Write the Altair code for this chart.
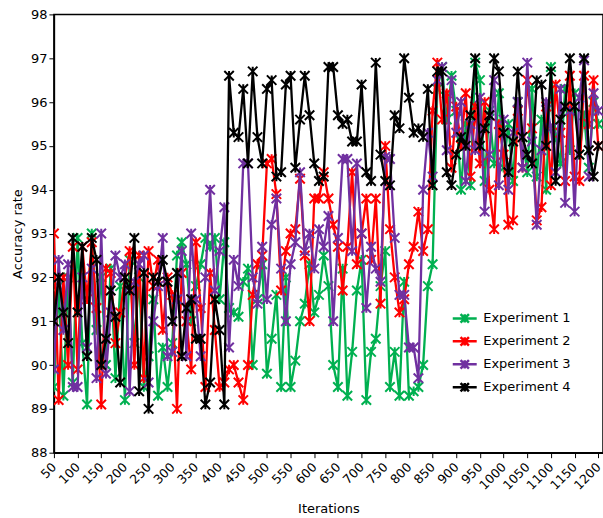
import altair as alt
import pandas as pd

iterations = list(range(50, 1201, 10))

exp1 = [
    89.5, 91.8, 89.3, 92.0, 89.6, 92.9, 90.5, 89.1, 93.0, 90.8,
    92.0, 90.0, 92.2, 89.7, 91.8, 89.2, 92.4, 90.5, 92.0, 89.5,
    90.2, 91.5, 89.3, 90.4, 89.5, 90.5, 92.5, 92.8, 92.3, 91.0,
    91.8, 92.3, 92.9, 92.7, 92.9, 91.5, 92.8, 91.3, 91.2, 91.1,
    91.9, 92.2, 90.0, 91.5, 92.3, 89.8, 90.6, 91.6, 89.5, 92.0,
    89.5, 90.1, 91.0, 91.4, 92.3, 91.2, 91.6, 92.5, 91.8, 90.0,
    89.5, 92.2, 89.3, 90.3, 91.7, 92.4, 89.2, 90.3, 90.6, 91.8,
    92.6, 89.5, 90.3, 89.3, 91.9, 89.3, 89.4, 89.5, 90.0, 91.8,
    92.3, 96.3, 96.8, 95.6, 96.6, 95.8, 94.0, 95.5, 94.1, 96.9,
    96.5, 94.2, 95.8, 94.6, 96.2, 94.5, 95.5, 94.2, 96.0, 95.2,
    94.4, 96.3, 94.3, 95.6, 94.0, 96.8, 95.2, 94.6, 96.3, 94.9,
    96.2, 94.8, 95.7, 94.5, 96.0, 95.5,
]

exp2 = [
    93.0, 89.2, 92.0, 90.0, 92.7, 89.9, 92.7, 91.5, 92.8, 91.3,
    89.1, 92.2, 92.1, 90.5, 91.2, 92.0, 92.6, 90.0, 92.5, 89.7,
    92.6, 91.8, 92.4, 90.8, 92.0, 91.6, 89.0, 92.1, 91.0, 89.9,
    92.8, 91.3, 89.5, 92.1, 90.8, 89.5, 89.6, 89.9, 90.0, 89.6,
    89.2, 90.0, 91.6, 92.3, 92.5, 94.6, 94.7, 93.9, 91.7, 92.6,
    93.0, 93.1, 94.25, 92.5, 91.0, 93.8, 93.8, 94.4, 93.8, 93.2,
    92.7, 91.7, 92.7, 94.4, 92.3, 93.0, 93.8, 92.4, 93.8, 91.4,
    95.0, 93.1, 92.0, 91.2, 91.5, 92.3, 92.7, 93.5, 92.6, 93.1,
    95.8, 96.9, 95.6, 96.2, 94.5, 95.9, 95.0, 96.2, 94.3, 95.9,
    94.6, 96.0, 94.0, 93.1, 95.5, 94.8, 93.2, 93.3, 95.8, 94.5,
    96.5, 95.4, 93.3, 93.6, 95.9, 94.1, 96.4, 95.3, 94.2, 96.6,
    94.3, 94.2, 96.6, 95.5, 96.5, 95.0,
]

exp3 = [
    89.9, 92.4, 90.8, 92.3, 89.5, 89.5, 92.0, 90.4, 92.2, 89.7,
    93.0, 89.8, 91.2, 92.5, 92.0, 92.3, 89.4, 91.9, 92.3, 92.5,
    89.6, 91.0, 91.8, 92.9, 90.2, 90.3, 91.5, 92.6, 90.2, 93.0,
    91.5, 90.2, 92.0, 94.0, 91.7,
    92.6, 93.6, 90.4, 92.4, 91.8, 94.6, 94.6, 92.0, 91.4, 92.7,
    91.5, 93.2, 93.8, 92.2, 91.0, 92.3, 92.8, 94.4, 92.6, 93.0,
    92.2, 93.1, 92.7, 93.4, 91.0, 92.9, 94.7, 94.7, 92.6, 94.6,
    93.0, 91.3, 92.7, 92.2, 91.9, 94.75, 94.7, 92.9, 91.6, 91.6,
    90.4, 90.4, 89.7, 94.0, 95.3, 94.3, 96.5, 96.8, 94.9, 96.5,
    95.3, 96.0, 94.2, 95.5, 94.9, 96.1, 93.5, 94.8, 96.5, 94.1,
    95.6, 94.0, 95.3, 96.0, 94.5, 96.9, 95.1, 93.2, 94.9, 96.0,
    95.4, 94.4, 96.3, 93.7, 95.8, 93.5, 96.1, 96.95, 94.3, 96.2, 95.8,
]

exp4 = [
    91.0, 92.0, 91.2, 90.5, 92.9, 91.2, 92.7, 90.2, 92.9, 92.4,
    90.0, 90.6, 91.7, 91.1, 89.6, 92.0, 91.7, 92.9, 89.4, 92.1,
    89.0, 92.0, 91.9, 92.4, 91.9, 91.0, 92.1, 90.2, 91.3, 91.5,
    90.6, 90.6, 89.1, 89.6, 91.5, 90.8, 89.1, 96.6, 95.3, 95.2,
    96.3, 94.6, 96.7, 95.2, 94.6, 96.3, 96.5, 94.3, 94.4, 96.4,
    96.6, 94.5, 95.6, 96.6, 95.7, 94.6, 94.2, 94.3, 96.8, 96.8,
    95.7, 95.5, 95.6, 95.1, 95.1, 96.4, 94.4, 94.2, 96.9, 94.8,
    94.2, 94.1, 95.7, 95.4, 97.0, 96.1, 95.3, 95.4, 95.2, 96.3,
    94.1, 96.7, 96.7, 94.4, 94.1, 94.8, 95.2, 95.0, 95.7, 97.0,
    95.0, 95.4, 95.7, 97.0, 96.7, 95.3, 94.4, 95.1, 96.7, 95.2,
    94.8, 94.6, 96.5, 96.4, 95.0, 96.7, 94.2, 95.6, 95.9, 97.0,
    95.9, 94.8, 97.0, 94.9, 94.3, 95.0,
]

series_names = ["Experiment 1", "Experiment 2", "Experiment 3", "Experiment 4"]
series_colors = ["#00B050", "#FF0000", "#7030A0", "#000000"]
x_ticks = list(range(50, 1201, 50))
y_ticks = list(range(88, 99))

rows = []
for name, vals in zip(series_names, [exp1, exp2, exp3, exp4]):
    for it, v in zip(iterations, vals):
        rows.append({"Iterations": it, "Accuracy": v, "Series": name})
df = pd.DataFrame(rows)

STAR = "M-1,-1L1,1M-1,1L1,-1M0,-1L0,1"
LEGEND_SYM = "M-2,0L2,0M-0.7,-0.7L0.7,0.7M-0.7,0.7L0.7,-0.7M0,-0.7L0,0.7"

color = alt.Color(
    "Series:N",
    scale=alt.Scale(domain=series_names, range=series_colors),
    legend=alt.Legend(
        title=None,
        orient="none",
        legendX=404,
        legendY=297,
        symbolType=LEGEND_SYM,
        symbolSize=144,
        symbolStrokeWidth=2.5,
        symbolFillColor="transparent",
        labelOffset=11,
        labelFontSize=13,
        labelFont="DejaVu Sans",
        labelColor="#000000",
        rowPadding=4,
        padding=0,
    ),
)
x = alt.X(
    "Iterations:Q",
    scale=alt.Scale(domain=[50, 1210], nice=False, zero=False),
    axis=alt.Axis(values=x_ticks, format="d", labelAngle=315, labelAlign="right",
                  labelBaseline="middle", labelPadding=7, labelOverlap=False,
                  labelBound=False, labelFontSize=12.5, title="Iterations",
                  titlePadding=11),
)
y = alt.Y(
    "Accuracy:Q",
    scale=alt.Scale(domain=[88, 98], nice=False, zero=False),
    axis=alt.Axis(values=y_ticks, format="d", title="Accuracy rate", titlePadding=6),
)

layers = []
for name in series_names:
    base = alt.Chart(df).transform_filter(alt.datum.Series == name).encode(x=x, y=y, color=color)
    layers.append(base.mark_line(strokeWidth=2.3, clip=True))
    layers.append(base.mark_point(shape=STAR, size=90, filled=False, strokeWidth=2, opacity=1, clip=True))

chart = alt.layer(*layers).properties(
    width=550,
    height=439,
    padding={"left": 54, "top": 14, "right": 0, "bottom": 65},
    autosize=alt.AutoSizeParams(type="none"),
    background="white",
).configure_view(
    stroke="#000000", strokeWidth=1.5
).configure_axis(
    grid=False,
    labelFont="DejaVu Sans",
    labelFontSize=13,
    labelColor="#000000",
    titleFont="DejaVu Sans",
    titleFontSize=13,
    titleFontWeight="normal",
    titleColor="#000000",
    domainColor="#000000",
    domainWidth=1.5,
    tickColor="#000000",
    tickSize=5,
)

chart.save("out.html", embed_options={"renderer": "svg", "actions": False})
